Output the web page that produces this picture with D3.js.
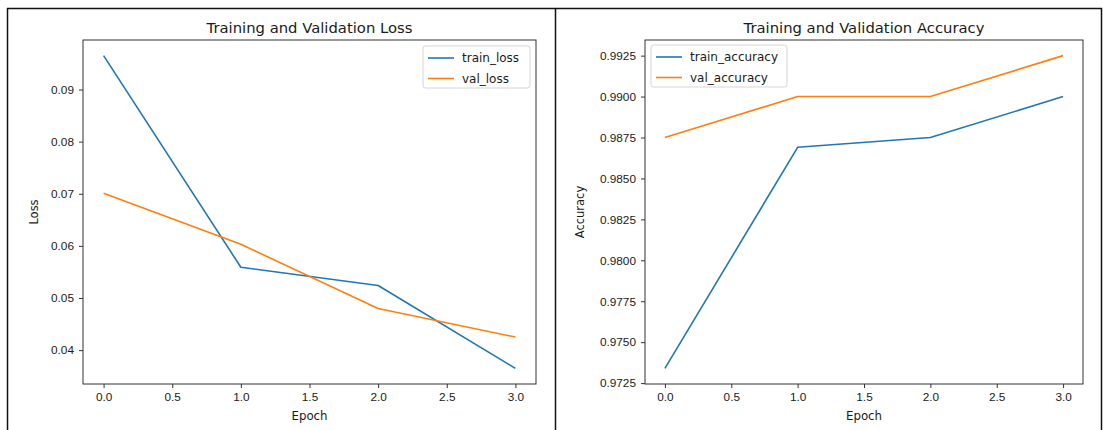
<!DOCTYPE html>
<html>
<head>
<meta charset="utf-8">
<script src="https://cdn.jsdelivr.net/npm/d3@7"></script>
<style>
  html, body { margin: 0; padding: 0; background: #fff; }
  svg { display: block; font-family: "DejaVu Sans", sans-serif; }
</style>
</head>
<body>
<svg id="chart" width="1103" height="430"></svg>
<script>
// Per-epoch training history
const epochs = [0, 1, 2, 3];
const trainLoss = [0.0965, 0.0559, 0.0524, 0.0365];
const valLoss = [0.0701, 0.0603, 0.0480, 0.0425];
const trainAccuracy = [0.9734, 0.9869, 0.9875, 0.9900];
const valAccuracy = [0.9875, 0.9900, 0.9900, 0.9925];

const xTicks = [0, 0.5, 1, 1.5, 2, 2.5, 3];
const lossTicks = [0.04, 0.05, 0.06, 0.07, 0.08, 0.09];
const accTicks = [0.9725, 0.9750, 0.9775, 0.9800, 0.9825, 0.9850, 0.9875, 0.9900, 0.9925];

const lossNames = ["train_loss", "val_loss"];
const accNames = ["train_accuracy", "val_accuracy"];
const colors = ["#1f77b4", "#ff7f0e"];

const svg = d3.select("#chart");
const ink = "#1a1a1a";

// Frame lines around the two figures
const frame = svg.append("g").attr("stroke", "#111").attr("stroke-width", 1.5).attr("fill", "none");
frame.append("line").attr("x1", 7).attr("x2", 1102).attr("y1", 8.5).attr("y2", 8.5);
frame.append("line").attr("x1", 7.5).attr("x2", 7.5).attr("y1", 8).attr("y2", 430);
frame.append("line").attr("x1", 555.5).attr("x2", 555.5).attr("y1", 8).attr("y2", 430);
frame.append("line").attr("x1", 1101.5).attr("x2", 1101.5).attr("y1", 8).attr("y2", 430);

function panel(opt) {
  const { left, right, top, bottom } = opt;
  const g = svg.append("g");

  // 5% margins around the data range
  const xr = d3.extent(epochs);
  const xPad = (xr[1] - xr[0]) * 0.05;
  const allY = opt.series.flat();
  const yr = d3.extent(allY);
  const yPad = (yr[1] - yr[0]) * 0.05;

  const x = d3.scaleLinear().domain([xr[0] - xPad, xr[1] + xPad]).range([left, right]);
  const y = d3.scaleLinear().domain([yr[0] - yPad, yr[1] + yPad]).range([bottom, top]);

  // Axes
  const xAxis = d3.axisBottom(x).tickValues(xTicks).tickFormat(d3.format(".1f")).tickSize(4).tickPadding(5);
  const yAxis = d3.axisLeft(y).tickValues(opt.yTicks).tickFormat(d3.format(opt.yFormat)).tickSize(4).tickPadding(5);

  const gx = g.append("g").attr("transform", `translate(0,${bottom})`).call(xAxis);
  const gy = g.append("g").attr("transform", `translate(${left},0)`).call(yAxis);
  [gx, gy].forEach(a => {
    a.select(".domain").remove();
    a.selectAll("text").attr("fill", ink).style("font-size", "11.8px");
    a.selectAll("line").attr("stroke", "#333");
  });

  // Lines
  const line = d3.line().x((d, i) => x(epochs[i])).y(d => y(d));
  opt.series.forEach((s, k) => {
    g.append("path").datum(s).attr("d", line)
      .attr("fill", "none").attr("stroke", colors[k]).attr("stroke-width", 1.6)
      .attr("stroke-linejoin", "round");
  });

  // Spines
  g.append("rect").attr("x", left).attr("y", top).attr("width", right - left).attr("height", bottom - top)
    .attr("fill", "none").attr("stroke", "#333").attr("stroke-width", 1);

  // Title and labels
  g.append("text").attr("x", (left + right) / 2).attr("y", top - 7).attr("text-anchor", "middle")
    .style("font-size", "14.8px").attr("fill", ink).text(opt.title);
  g.append("text").attr("x", (left + right) / 2).attr("y", bottom + 36).attr("text-anchor", "middle")
    .style("font-size", "11.8px").attr("fill", ink).text("Epoch");
  g.append("text").attr("transform", `translate(${opt.yLabelX},${(top + bottom) / 2}) rotate(-90)`)
    .attr("text-anchor", "middle").style("font-size", "11.5px").attr("fill", ink).text(opt.yLabel);

  // Legend
  const lg = g.append("g").attr("transform", `translate(${opt.legend.x},${opt.legend.y})`);
  lg.append("rect").attr("x", 0).attr("y", 0).attr("width", opt.legend.w).attr("height", 42)
    .attr("rx", 2.5).attr("fill", "#fff").attr("fill-opacity", 0.8).attr("stroke", "#d5d5d5");
  opt.names.forEach((n, k) => {
    const cy = 12 + k * 20.5;
    lg.append("line").attr("x1", 5).attr("x2", 31).attr("y1", cy).attr("y2", cy)
      .attr("stroke", colors[k]).attr("stroke-width", 1.6);
    lg.append("text").attr("x", 39).attr("y", cy + 4.3).style("font-size", "12px").attr("fill", ink).text(n);
  });
}

panel({
  left: 83, right: 536, top: 40, bottom: 384,
  series: [trainLoss, valLoss], names: lossNames,
  yTicks: lossTicks, yFormat: ".2f",
  title: "Training and Validation Loss", yLabel: "Loss", yLabelX: 38,
  legend: { x: 423, y: 46, w: 107 }
});

panel({
  left: 645, right: 1083, top: 40, bottom: 384,
  series: [trainAccuracy, valAccuracy], names: accNames,
  yTicks: accTicks, yFormat: ".4f",
  title: "Training and Validation Accuracy", yLabel: "Accuracy", yLabelX: 584,
  legend: { x: 651, y: 45, w: 136 }
});
</script>
</body>
</html>
